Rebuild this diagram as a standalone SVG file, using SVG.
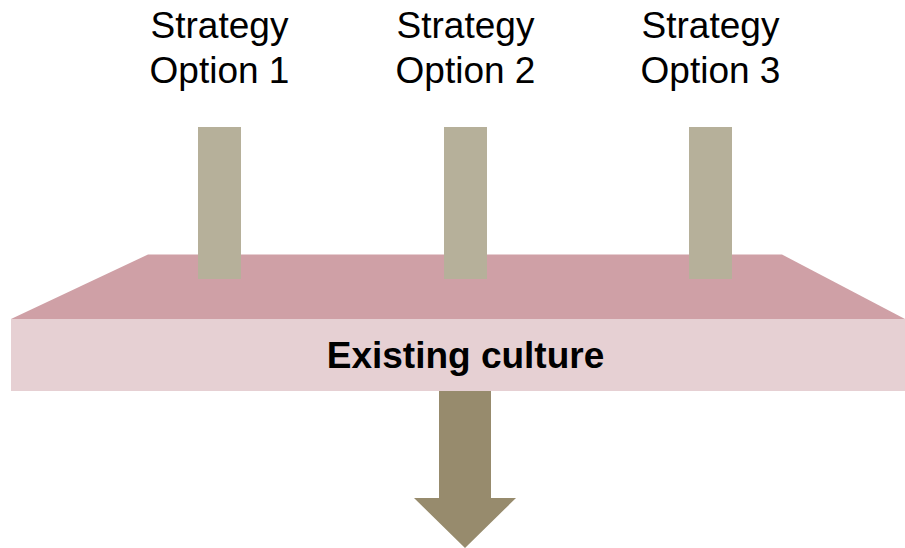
<svg xmlns="http://www.w3.org/2000/svg" width="905" height="548" viewBox="0 0 905 548">
  <style>
    .label { font-family: "Liberation Sans", Arial, sans-serif; font-size: 37px; fill: #000; text-anchor: middle; }
    .bold { font-weight: bold; }
    .pillar { fill: #B6B09A; }
  </style>
  <rect width="905" height="548" fill="#fff"/>
  <g id="culture">
    <polygon points="148,254.5 782,254.5 905,319 11,319" fill="#CFA0A6"/>
    <rect x="11" y="319" width="894" height="72" fill="#E6D0D3"/>
  </g>
  <g id="option1">
    <rect class="pillar" x="198" y="127" width="43" height="152"/>
    <text class="label" x="219.5" y="38">Strategy</text>
    <text class="label" x="219.5" y="83">Option 1</text>
  </g>
  <g id="option2">
    <rect class="pillar" x="444" y="127" width="43" height="152"/>
    <text class="label" x="465.5" y="38">Strategy</text>
    <text class="label" x="465.5" y="83">Option 2</text>
  </g>
  <g id="option3">
    <rect class="pillar" x="689" y="127" width="43" height="152"/>
    <text class="label" x="710.5" y="38">Strategy</text>
    <text class="label" x="710.5" y="83">Option 3</text>
  </g>
  <g id="culture-label">
    <text class="label bold" x="465.5" y="368">Existing culture</text>
  </g>
  <g id="connectors">
    <polygon points="439,391 491,391 491,498 516,498 465,548 414,498 439,498" fill="#978B6D"/>
  </g>
</svg>
